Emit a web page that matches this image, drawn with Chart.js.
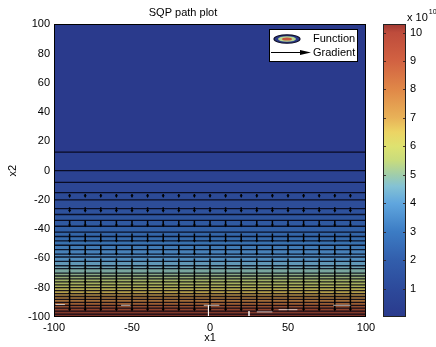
<!DOCTYPE html>
<html><head><meta charset="utf-8">
<script src="https://cdn.jsdelivr.net/npm/chart.js@4.4.0/dist/chart.umd.min.js"></script>
<style>
html,body{margin:0;padding:0;background:#fff;}
#wrap{position:relative;width:436px;height:347px;overflow:hidden;}
#wrap canvas{position:absolute;left:0;top:0;}
</style></head><body>
<div id="wrap"><canvas id="main" width="436" height="347"></canvas><canvas id="cbar" width="436" height="347"></canvas></div>
<script>
// ---- data ----
const contourY = [12.6, 0, -8, -15, -20, -26, -30, -34, -38, -42, -45, -48, -51, -54, -57, -59, -62, -65, -67, -70, -72, -74, -76, -78, -80, -82, -84, -86, -88, -90, -92, -94, -96, -98];
const contourLevel = [0.38, 0.64, 0.88, 1.13, 1.33, 1.62, 1.84, 2.08, 2.33, 2.62, 2.85, 3.09, 3.35, 3.6, 3.8, 4.0, 4.3, 4.6, 4.8, 5.1, 5.3, 5.5, 5.75, 6.0, 6.25, 6.55, 6.9, 7.3, 7.7, 8.1, 8.6, 9.0, 9.5, 9.9];
const topLevel = 0;
const quiverX = [-90, -80, -70, -60, -50, -40, -30, -20, -10, 0, 10, 20, 30, 40, 50, 60, 70, 80, 90];
const quiverTailY = [-16, -25, -34, -43, -51, -60, -68, -75, -85];
const quiverLen = [1.5, 2.5, 3.5, 5, 6, 7, 8, 9, 10];
const pathX = [-99, -93, null, -57, -51, null, -4, 6, null, -1, -1, null, 25, 25, null, 30, 40, null, 44, 56, null, 79, 90];
const pathY = [-91.5, -91.5, null, -92, -92, null, -92, -92, null, -92, -100, null, -96, -100, null, -96.5, -96.5, null, -95, -95, null, -92, -92];
const xTicks = [-100, -50, 0, 50, 100];
const yTicks = [-100, -80, -60, -40, -20, 0, 20, 40, 60, 80, 100];
const cbTicks = [1, 2, 3, 4, 5, 6, 7, 8, 9, 10];
const cbMax = 10.3;
const legendLabels = ['Function', 'Gradient'];

// ---- styling ----
const FONT = "'Liberation Sans', Arial, Helvetica, sans-serif";
Chart.defaults.font.family = FONT;
Chart.defaults.font.size = 11;
Chart.defaults.color = '#000';
const cmapStops = [
  [0, [42, 58, 140]], [1, [45, 74, 155]], [2, [50, 94, 172]], [3, [60, 124, 196]],
  [4, [96, 166, 222]], [4.6, [132, 194, 212]], [5, [160, 205, 170]], [5.5, [200, 220, 125]],
  [6, [222, 226, 112]], [6.5, [236, 212, 100]], [7, [232, 178, 88]], [8, [224, 136, 72]],
  [9, [210, 98, 66]], [10, [190, 76, 60]], [10.3, [160, 56, 50]]
];
function cmapRGB(v) {
  if (v <= cmapStops[0][0]) return cmapStops[0][1].slice();
  for (let i = 1; i < cmapStops.length; i++) {
    const [v1, c1] = cmapStops[i];
    const [v0, c0] = cmapStops[i - 1];
    if (v <= v1) {
      const t = (v - v0) / (v1 - v0);
      return c0.map((c, k) => Math.round(c + (c1[k] - c) * t));
    }
  }
  return cmapStops[cmapStops.length - 1][1].slice();
}
function cmap(v) { return 'rgb(' + cmapRGB(v).join(',') + ')'; }
function plotFill(v) {
  const f = 1 - 0.38 * Math.min(1, v / cbMax);
  return 'rgb(' + cmapRGB(v).map(c => Math.round(c * f)).join(',') + ')';
}

// ---- datasets ----
const datasets = [];
const bandTops = [100].concat(contourY);
const bandLevels = [topLevel].concat(contourLevel);
bandTops.forEach((y, i) => {
  datasets.push({
    label: 'band' + i,
    data: [{x: -100, y: y}, {x: 100, y: y}],
    fill: 'start',
    backgroundColor: plotFill(bandLevels[i]),
    borderWidth: 0,
    pointRadius: 0,
    order: 1000 - i
  });
});
const lineData = [];
contourY.forEach(y => { lineData.push({x: -100, y: y}, {x: 100, y: y}, {x: 100, y: null}); });
datasets.push({label: 'Function', data: lineData, borderColor: 'rgba(5,5,20,0.88)', borderWidth: 1.3, pointRadius: 0, fill: false, spanGaps: false, order: 10});
const qData = [], qHeads = [];
quiverX.forEach(x => {
  quiverTailY.forEach((y, j) => {
    qData.push({x: x, y: y}, {x: x, y: y - quiverLen[j]}, {x: x, y: null});
    qHeads.push({x: x, y: y - quiverLen[j]});
  });
});
datasets.push({label: 'Gradient', data: qData, borderColor: '#000', borderWidth: 1.5, pointRadius: 0, fill: false, spanGaps: false, order: 5});
datasets.push({label: 'heads', type: 'scatter', data: qHeads, pointStyle: 'triangle', rotation: 180, pointRadius: 1.8, backgroundColor: '#000', borderColor: '#000', borderWidth: 0, order: 4});
const pData = pathX.map((x, i) => ({x: x === null ? 0 : x, y: pathY[i]}));
datasets.push({label: 'path', data: pData, borderColor: 'rgba(255,255,255,0.7)', borderWidth: 1, pointRadius: 0, fill: false, spanGaps: false, order: 3});

const boxPlugin = {
  id: 'box',
  afterDatasetsDraw(chart) {
    const a = chart.chartArea, ctx = chart.ctx;
    ctx.save();
    ctx.strokeStyle = '#000';
    ctx.lineWidth = 1;
    ctx.strokeRect(Math.round(a.left) + 0.5, Math.round(a.top) + 0.5, Math.round(a.right - a.left) - 1, Math.round(a.bottom - a.top) - 1);
    ctx.restore();
  }
};
const legendPlugin = {
  id: 'mlegend',
  afterDraw(chart) {
    const a = chart.chartArea, ctx = chart.ctx;
    const bw = 88, bh = 32;
    const bx = Math.round(a.right) - 97, by = Math.round(a.top) + 5;
    ctx.save();
    ctx.fillStyle = '#fff';
    ctx.fillRect(bx, by, bw, bh);
    ctx.strokeStyle = '#000';
    ctx.lineWidth = 1;
    ctx.strokeRect(bx + 0.5, by + 0.5, bw, bh);
    const cx = bx + 18, cy = by + 10;
    const rings = [[13, 4.2, cmap(0)], [9, 2.8, cmap(5.3)], [5, 1.6, cmap(9.5)]];
    rings.forEach(([rx, ry, col], k) => {
      ctx.beginPath();
      ctx.ellipse(cx, cy, rx, ry, 0, 0, Math.PI * 2);
      ctx.fillStyle = col;
      ctx.fill();
      if (k === 0) { ctx.strokeStyle = '#10102a'; ctx.lineWidth = 1.2; ctx.stroke(); }
    });
    const ay = by + 23.5;
    ctx.strokeStyle = '#000';
    ctx.lineWidth = 1;
    ctx.beginPath(); ctx.moveTo(bx + 2, ay); ctx.lineTo(bx + 38, ay); ctx.stroke();
    ctx.beginPath(); ctx.moveTo(bx + 42, ay); ctx.lineTo(bx + 31, ay - 2.5); ctx.lineTo(bx + 31, ay + 2.5); ctx.closePath();
    ctx.fillStyle = '#000'; ctx.fill();
    ctx.font = '11px ' + FONT;
    ctx.textBaseline = 'middle';
    ctx.textAlign = 'left';
    ctx.fillStyle = '#000';
    ctx.fillText(legendLabels[0], bx + 44, cy);
    ctx.fillText(legendLabels[1], bx + 44, ay);
    ctx.restore();
  }
};

new Chart(document.getElementById('main'), {
  type: 'line',
  data: {datasets: datasets},
  options: {
    responsive: false,
    animation: false,
    devicePixelRatio: 1,
    layout: {padding: {left: 0, right: 70, top: 0, bottom: 0}},
    plugins: {
      legend: {display: false},
      tooltip: {enabled: false},
      title: {display: true, text: 'SQP path plot', color: '#000', font: {size: 11, weight: 'normal'}, padding: {top: 6, bottom: 5}}
    },
    scales: {
      x: {
        type: 'linear', min: -100, max: 100,
        afterBuildTicks: s => { s.ticks = xTicks.map(v => ({value: v})); },
        afterFit: s => { s.height = 30; },
        grid: {display: false, drawTicks: false},
        border: {display: false},
        ticks: {padding: 4, color: '#000', maxRotation: 0, font: {size: 11}},
        title: {display: true, text: 'x1', color: '#000', font: {size: 11}, padding: {top: 0, bottom: 2}}
      },
      y: {
        type: 'linear', min: -100, max: 100,
        afterBuildTicks: s => { s.ticks = yTicks.map(v => ({value: v})); },
        afterFit: s => { s.width = 54; },
        grid: {display: false, drawTicks: false},
        border: {display: false},
        ticks: {padding: 4, color: '#000', font: {size: 11}},
        title: {display: true, text: 'x2', color: '#000', font: {size: 11}, padding: {top: 6, bottom: 0}}
      }
    }
  },
  plugins: [boxPlugin, legendPlugin]
});

// ---- colorbar ----
const cbPlugin = {
  id: 'cbdeco',
  afterDatasetsDraw(chart) {
    const a = chart.chartArea, ctx = chart.ctx, ys = chart.scales.y;
    ctx.save();
    ctx.strokeStyle = 'rgba(50,30,30,0.85)';
    ctx.lineWidth = 1;
    cbTicks.forEach(v => {
      const y = Math.round(ys.getPixelForValue(v)) + 0.5;
      ctx.beginPath();
      ctx.moveTo(a.left, y); ctx.lineTo(a.left + 3, y);
      ctx.moveTo(a.right - 3, y); ctx.lineTo(a.right, y);
      ctx.stroke();
    });
    ctx.strokeStyle = '#222';
    ctx.strokeRect(Math.round(a.left) + 0.5, Math.round(a.top) + 0.5, Math.round(a.right - a.left) - 1, Math.round(a.bottom - a.top) - 1);
    ctx.fillStyle = '#000';
    ctx.textBaseline = 'alphabetic';
    ctx.textAlign = 'left';
    ctx.font = '11px ' + FONT;
    ctx.fillText('x 10', a.right + 1, a.top - 3);
    const w = ctx.measureText('x 10').width;
    ctx.font = '7px ' + FONT;
    ctx.fillText('10', a.right + 2 + w, a.top - 10);
    ctx.restore();
  }
};
new Chart(document.getElementById('cbar'), {
  type: 'bar',
  data: {
    labels: ['c'],
    datasets: [{
      data: [[0, cbMax]],
      barPercentage: 1, categoryPercentage: 1, borderWidth: 0,
      backgroundColor: c => {
        const ch = c.chart;
        if (!ch.chartArea) return cmap(5);
        const ys = ch.scales.y;
        const g = ch.ctx.createLinearGradient(0, ys.getPixelForValue(0), 0, ys.getPixelForValue(cbMax));
        cmapStops.forEach(([v, col]) => g.addColorStop(Math.min(1, v / cbMax), 'rgb(' + col.join(',') + ')'));
        return g;
      }
    }]
  },
  options: {
    responsive: false,
    animation: false,
    devicePixelRatio: 1,
    layout: {padding: {left: 383, top: 24, bottom: 30, right: 0}},
    plugins: {legend: {display: false}, tooltip: {enabled: false}, title: {display: false}},
    scales: {
      x: {display: false},
      y: {
        position: 'right', min: 0, max: cbMax,
        afterBuildTicks: s => { s.ticks = cbTicks.map(v => ({value: v})); },
        afterFit: s => { s.width = 30; },
        grid: {display: false, drawTicks: false},
        border: {display: false},
        ticks: {padding: 4, color: '#000', font: {size: 11}}
      }
    }
  },
  plugins: [cbPlugin]
});
</script>
</body></html>
